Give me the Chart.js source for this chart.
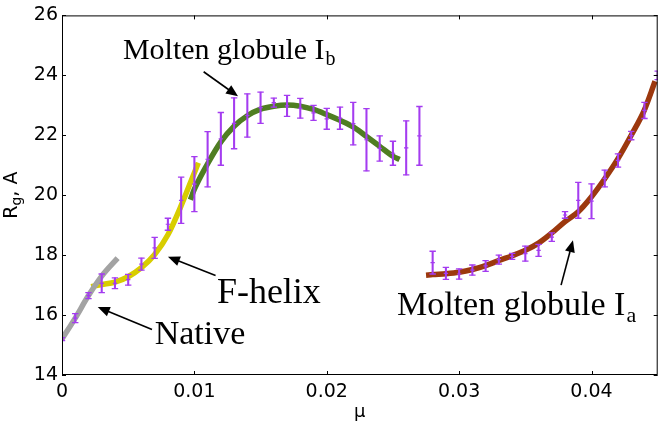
<!DOCTYPE html>
<html>
<head>
<meta charset="utf-8">
<script src="https://cdn.jsdelivr.net/npm/chart.js@4.4.0/dist/chart.umd.min.js"></script>
<style>
  html, body { margin: 0; padding: 0; background: #fff; }
</style>
</head>
<body>
<canvas id="chart" width="663" height="428"></canvas>
<script>
const xTicks = [0, 0.01, 0.02, 0.03, 0.04];
const xTickLabels = ["0", "0.01", "0.02", "0.03", "0.04"];
const yTicks = [14, 16, 18, 20, 22, 24, 26];

// fitted curves
const nativeMu = [0, 0.001, 0.002, 0.003, 0.0042];
const nativeRg = [15.2, 15.9, 16.65, 17.3, 17.9];

const helixMu = [0.0022, 0.003, 0.004, 0.005, 0.006, 0.007, 0.008, 0.009, 0.010, 0.0103];
const helixRg = [16.95, 17.02, 17.1, 17.28, 17.58, 18.02, 18.68, 19.65, 20.75, 21.08];

const globBMu = [0.0097, 0.010, 0.011, 0.012, 0.013, 0.014, 0.015, 0.016, 0.017, 0.018, 0.019, 0.020, 0.021, 0.022, 0.023, 0.024, 0.025, 0.0255];
const globBRg = [19.85, 20.2, 21.05, 21.78, 22.3, 22.65, 22.87, 22.97, 23.01, 22.97, 22.86, 22.69, 22.5, 22.28, 21.96, 21.63, 21.3, 21.19];

const globAMu = [0.0275, 0.028, 0.029, 0.030, 0.031, 0.032, 0.033, 0.034, 0.035, 0.036, 0.037, 0.038, 0.039, 0.040, 0.041, 0.042, 0.043, 0.044, 0.0448];
const globARg = [17.33, 17.35, 17.38, 17.43, 17.52, 17.65, 17.82, 17.98, 18.16, 18.4, 18.74, 19.12, 19.45, 19.95, 20.55, 21.22, 22.0, 22.85, 23.8];

// simulation points with error bars
const errMu = [0, 0.001, 0.002, 0.003, 0.004, 0.005, 0.006, 0.007, 0.008, 0.009,
  0.010, 0.011, 0.012, 0.013, 0.014, 0.015, 0.016, 0.017, 0.018, 0.019,
  0.020, 0.021, 0.022, 0.023, 0.024, 0.025, 0.026, 0.027, 0.028, 0.029,
  0.030, 0.031, 0.032, 0.033, 0.034, 0.035, 0.036, 0.037, 0.038, 0.039,
  0.040, 0.041, 0.042, 0.043, 0.044, 0.045];
const errMid = [15.2, 15.9, 16.65, 17.06, 17.06, 17.18, 17.7, 18.24, 19.03, 19.83,
  20.37, 21.2, 21.88, 22.4, 22.66, 22.92, 23.09, 22.98, 22.9, 22.75,
  22.55, 22.57, 22.39, 21.85, 21.56, 21.4, 21.58, 21.98, 17.75, 17.39,
  17.37, 17.5, 17.64, 17.85, 17.96, 18.05, 18.16, 18.6, 19.34, 19.83,
  19.8, 20.56, 21.16, 21.99, 22.83, 24.0];
const errHalf = [0.05, 0.15, 0.1, 0.31, 0.18, 0.18, 0.2, 0.35, 0.2, 0.77,
  0.92, 0.92, 0.88, 0.85, 0.72, 0.52, 0.15, 0.35, 0.33, 0.25,
  0.35, 0.37, 0.71, 1.04, 0.42, 0.4, 0.9, 0.98, 0.38, 0.2,
  0.17, 0.17, 0.18, 0.15, 0.1, 0.25, 0.2, 0.14, 0.11, 0.6,
  0.58, 0.28, 0.22, 0.14, 0.27, 0.14];

const PURPLE = "#a43cf0";

const pts = (xs, ys) => xs.map((x, i) => ({ x: x, y: ys[i] }));
const errLo = errMid.map((m, i) => m - errHalf[i]);
const errHi = errMid.map((m, i) => m + errHalf[i]);

function curve(xs, ys, color) {
  return {
    type: "scatter",
    data: pts(xs, ys),
    showLine: true,
    borderColor: color,
    borderWidth: 5.5,
    pointRadius: 0,
    cubicInterpolationMode: "monotone",
    order: 2
  };
}

// annotations: text anchored in data coordinates
const notes = [
  { text: "Molten globule I", sub: "b", x: 0.0046, y: 24.53, size: 30 },
  { text: "F-helix", sub: "", x: 0.0117, y: 16.4, size: 36 },
  { text: "Native", sub: "", x: 0.007, y: 15.03, size: 34 },
  { text: "Molten globule I", sub: "a", x: 0.0253, y: 16.0, size: 34 }
];
const arrows = [
  { from: [0.0107, 24.12], to: [0.0133, 23.3] },
  { from: [0.0116, 17.32], to: [0.0080, 17.95] },
  { from: [0.0068, 15.52], to: [0.0027, 16.27] },
  { from: [0.0377, 17.0], to: [0.0386, 18.5] }
];

function drawArrow(ctx, x1, y1, x2, y2) {
  const a = Math.atan2(y2 - y1, x2 - x1);
  const hl = 12, hw = 5;
  ctx.beginPath();
  ctx.moveTo(x1, y1);
  ctx.lineTo(x2 - Math.cos(a) * hl * 0.8, y2 - Math.sin(a) * hl * 0.8);
  ctx.stroke();
  ctx.beginPath();
  ctx.moveTo(x2, y2);
  ctx.lineTo(x2 - hl * Math.cos(a) + hw * Math.sin(a), y2 - hl * Math.sin(a) - hw * Math.cos(a));
  ctx.lineTo(x2 - hl * Math.cos(a) - hw * Math.sin(a), y2 - hl * Math.sin(a) + hw * Math.cos(a));
  ctx.closePath();
  ctx.fill();
}

const extras = {
  id: "extras",
  afterDatasetsDraw(chart) {
    const ctx = chart.ctx;
    const { left, right, top, bottom } = chart.chartArea;
    const xs = chart.scales.x, ys = chart.scales.y;
    ctx.save();

    // frame and inward ticks on all four sides
    ctx.strokeStyle = "#000";
    ctx.lineWidth = 1;
    ctx.strokeRect(left + 0.5, top + 0.5, right - left - 1, bottom - top - 1);
    ctx.beginPath();
    xTicks.forEach(v => {
      const px = Math.round(xs.getPixelForValue(v)) + 0.5;
      ctx.moveTo(px, bottom); ctx.lineTo(px, bottom - 4);
      ctx.moveTo(px, top); ctx.lineTo(px, top + 4);
    });
    yTicks.forEach(v => {
      const py = Math.round(ys.getPixelForValue(v)) + 0.5;
      ctx.moveTo(left, py); ctx.lineTo(left + 4, py);
      ctx.moveTo(right, py); ctx.lineTo(right - 4, py);
    });
    ctx.stroke();

    // labels and arrows
    ctx.fillStyle = "#000";
    ctx.textBaseline = "alphabetic";
    ctx.textAlign = "left";
    notes.forEach(n => {
      const px = xs.getPixelForValue(n.x), py = ys.getPixelForValue(n.y);
      ctx.font = n.size + 'px "Liberation Serif"';
      ctx.fillText(n.text, px, py);
      if (n.sub) {
        const w = ctx.measureText(n.text).width;
        ctx.font = Math.round(n.size * 0.65) + 'px "Liberation Serif"';
        ctx.fillText(n.sub, px + w + 1, py + n.size * 0.2);
      }
    });
    ctx.lineWidth = 1.6;
    arrows.forEach(a => {
      drawArrow(ctx,
        xs.getPixelForValue(a.from[0]), ys.getPixelForValue(a.from[1]),
        xs.getPixelForValue(a.to[0]), ys.getPixelForValue(a.to[1]));
    });

    // y axis title R_g, A
    const cy = (top + bottom) / 2;
    ctx.translate(17, cy);
    ctx.rotate(-Math.PI / 2);
    ctx.font = '19px "DejaVu Sans"';
    const wR = ctx.measureText("R").width;
    const wA = ctx.measureText(", A").width;
    ctx.font = '14px "DejaVu Sans"';
    const wg = ctx.measureText("g").width;
    let x0 = -(wR + wg + wA) / 2;
    ctx.font = '19px "DejaVu Sans"';
    ctx.fillText("R", x0, 0);
    ctx.font = '14px "DejaVu Sans"';
    ctx.fillText("g", x0 + wR, 4);
    ctx.font = '19px "DejaVu Sans"';
    ctx.fillText(", A", x0 + wR + wg, 0);
    ctx.restore();
  }
};

new Chart(document.getElementById("chart"), {
  type: "scatter",
  data: {
    datasets: [
      {
        type: "bar",
        data: errMu.map((x, i) => ({ x: x, y: [errLo[i], errHi[i]] })),
        backgroundColor: PURPLE,
        barThickness: 1.4,
        order: 0
      },
      {
        type: "scatter",
        data: pts(errMu, errLo).concat(pts(errMu, errHi)),
        pointStyle: "line",
        pointRadius: 3.2,
        borderColor: PURPLE,
        borderWidth: 1.3,
        order: 0
      },
      {
        type: "scatter",
        data: pts(errMu, errMid),
        pointStyle: "line",
        pointRadius: 2.2,
        borderColor: PURPLE,
        borderWidth: 1.2,
        order: 0
      },
      curve(nativeMu, nativeRg, "#a3a3a3"),
      curve(helixMu, helixRg, "#d8cd00"),
      curve(globBMu, globBRg, "#4f7e22"),
      curve(globAMu, globARg, "#9c380e")
    ]
  },
  options: {
    responsive: false,
    animation: false,
    devicePixelRatio: 1,
    layout: { padding: { top: 8, right: 5, left: 0, bottom: 0 } },
    plugins: { legend: { display: false }, tooltip: { enabled: false } },
    scales: {
      x: {
        type: "linear",
        min: 0,
        max: 0.045,
        offset: false,
        afterBuildTicks: s => { s.ticks = xTicks.map(v => ({ value: v })); },
        afterFit: s => { s.height = 53; },
        grid: { display: false, drawTicks: false, offset: false },
        border: { display: false },
        ticks: {
          padding: 6,
          color: "#000",
          font: { family: "DejaVu Sans", size: 19 },
          callback: v => { const i = xTicks.indexOf(v); return i >= 0 ? xTickLabels[i] : ""; }
        },
        title: {
          display: true,
          text: "μ",
          color: "#000",
          font: { family: "DejaVu Sans", size: 18 },
          padding: { top: 0, bottom: 5 }
        }
      },
      y: {
        type: "linear",
        min: 14,
        max: 26,
        afterBuildTicks: s => { s.ticks = yTicks.map(v => ({ value: v })); },
        afterFit: s => { s.width = 62; },
        grid: { display: false, drawTicks: false },
        border: { display: false },
        ticks: {
          padding: 4,
          color: "#000",
          font: { family: "DejaVu Sans", size: 19 },
          callback: v => String(v)
        }
      }
    }
  },
  plugins: [extras]
});
</script>
</body>
</html>
